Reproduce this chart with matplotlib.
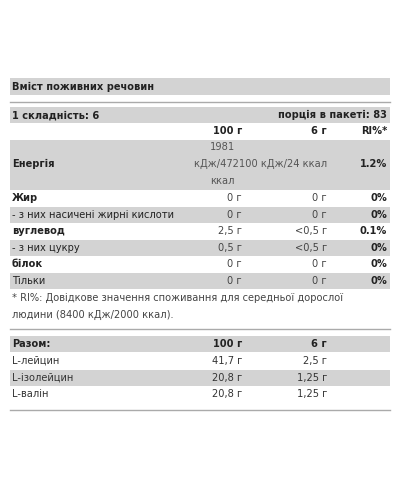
import matplotlib; matplotlib.use('Agg')
import matplotlib.pyplot as plt
from matplotlib.patches import Rectangle

TITLE='Вміст поживних речовин'
SERV_L='1 складність: 6'; SERV_R='порція в пакеті: 83'
COLS=['100 г','6 г','RI%*']
NUT_NAMES=['Жир','- з них насичені жирні кислоти','вуглевод','- з них цукру','білок','Тільки']
NUT_BOLD=[True,False,True,False,True,False]
NUT_100=['0 г','0 г','2,5 г','0,5 г','0 г','0 г']
NUT_6=['0 г','0 г','<0,5 г','<0,5 г','0 г','0 г']
NUT_RI=['0%','0%','0.1%','0%','0%','0%']
EN_100=['1981','кДж/472100 кДж/24 ккал','ккал']
EN_RI='1.2%'
FOOT=['* RI%: Довідкове значення споживання для середньої дорослої','людини (8400 кДж/2000 ккал).']
AA_COLS=['Разом:','100 г','6 г']
AA_NAMES=['L-лейцин','L-ізолейцин','L-валін']
AA_100=['41,7 г','20,8 г','20,8 г']
AA_6=['2,5 г','1,25 г','1,25 г']

GRAY='#d3d3d3'; INK='#222222'; SOFT='#444444'
X0,X1=10,390; C1,C2,C3=242,327,387
FS=7.1

fig=plt.figure(figsize=(4,5),dpi=100)
ax=fig.add_axes([0,0,1,1]); ax.set_xlim(0,400); ax.set_ylim(500,0); ax.axis('off')

def band(y0,y1): ax.add_patch(Rectangle((X0,y0),X1-X0,y1-y0,color=GRAY,lw=0))
def t(x,y,s,ha='left',bold=False,c=INK): ax.text(x,y,s,ha=ha,va='center',fontsize=FS,fontweight='bold' if bold else 'normal',color=c)
def rule(y): ax.plot([X0,X1],[y,y],color='#aaaaaa',lw=1)

band(78,95); t(12,87,TITLE,bold=True)
rule(102)
band(107,123); t(12,115,SERV_L,bold=True); t(C3,115,SERV_R,ha='right',bold=True)
for x,s in zip((C1,C2,C3),COLS): t(x,131,s,ha='right',bold=True)
band(140,190)
t(12,164,'Енергія',bold=True)
t(222,147,EN_100[0],ha='center',c='#555555'); t(C2,164,EN_100[1],ha='right',c='#555555'); t(222,181,EN_100[2],ha='center',c='#555555')
t(C3,164,EN_RI,ha='right',bold=True)
for i,n in enumerate(NUT_NAMES):
    y=198+i*16.6
    if i%2: band(y-8,y+8)
    t(12,y,n,bold=NUT_BOLD[i]); t(C1,y,NUT_100[i],ha='right',c=SOFT)
    t(C2,y,NUT_6[i],ha='right',c=SOFT); t(C3,y,NUT_RI[i],ha='right',bold=True)
for k,s in enumerate(FOOT): t(12,298+k*17,s,c='#444444')
rule(329)
band(336,352); t(12,344,AA_COLS[0],bold=True); t(C1,344,AA_COLS[1],ha='right',bold=True); t(C2,344,AA_COLS[2],ha='right',bold=True)
for i,n in enumerate(AA_NAMES):
    y=361+i*16.6
    if i%2: band(y-8,y+8)
    t(12,y,n,c='#333333'); t(C1,y,AA_100[i],ha='right',c='#333333'); t(C2,y,AA_6[i],ha='right',c='#333333')
rule(410)
fig.savefig('out.png',dpi=100,facecolor='white')
